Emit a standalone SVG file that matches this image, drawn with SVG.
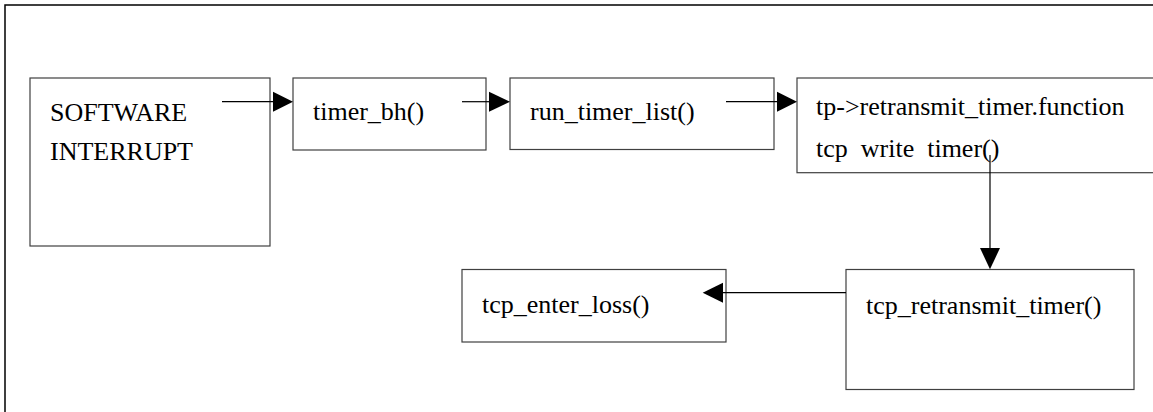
<svg xmlns="http://www.w3.org/2000/svg" width="1153" height="412" viewBox="0 0 1153 412">
<defs>
<style>
.box{fill:#fff;stroke:#404040;stroke-width:1.2}
.lbl{font-size:26px;fill:#000}
.con{stroke:#000;stroke-width:1.2;fill:none}
.head{fill:#000}
</style>
</defs>
<rect x="0" y="0" width="1153" height="412" fill="#fff"/>
<rect x="5" y="5" width="1160" height="420" fill="none" stroke="#000" stroke-width="1.5"/>
<g font-family="'Times New Roman', 'Liberation Serif', serif">
<g id="software-interrupt">
<rect class="box" x="30" y="78" width="240" height="168"/>
<text class="lbl" x="50" y="121">SOFTWARE</text>
<text class="lbl" x="50" y="160">INTERRUPT</text>
</g>
<g id="timer-bh">
<rect class="box" x="293" y="78" width="193" height="72"/>
<text class="lbl" x="313" y="120">timer_bh()</text>
</g>
<g id="run-timer-list">
<rect class="box" x="510" y="78" width="264" height="71.5"/>
<text class="lbl" x="530" y="120">run_timer_list()</text>
</g>
<g id="retransmit-function">
<rect class="box" x="797" y="78" width="380" height="94.7"/>
<text class="lbl" x="816" y="115">tp-&gt;retransmit_timer.function</text>
<text class="lbl" x="816" y="157" xml:space="preserve">tcp  write  timer()</text>
</g>
<g id="tcp-retransmit-timer">
<rect class="box" x="846" y="269.5" width="288" height="120"/>
<text class="lbl" x="866" y="314">tcp_retransmit_timer()</text>
</g>
<g id="tcp-enter-loss">
<rect class="box" x="462" y="269.5" width="264" height="72.5"/>
<text class="lbl" x="482" y="313">tcp_enter_loss()</text>
</g>
</g>
<g id="connectors">
<line class="con" x1="222" y1="101.7" x2="274" y2="101.7"/>
<polygon class="head" points="273,91.7 293,101.7 273,111.7"/>
<line class="con" x1="462" y1="101.7" x2="490" y2="101.7"/>
<polygon class="head" points="489,91.7 510,101.7 489,111.7"/>
<line class="con" x1="726" y1="101.7" x2="778" y2="101.7"/>
<polygon class="head" points="777,91.7 797,101.7 777,111.7"/>
<line class="con" x1="990" y1="155" x2="990" y2="249"/>
<polygon class="head" points="980,248 1000,248 990,269.3"/>
<line class="con" x1="846" y1="292.7" x2="722" y2="292.7"/>
<polygon class="head" points="723,282.7 723,302.7 702.7,292.7"/>
</g>
</svg>
